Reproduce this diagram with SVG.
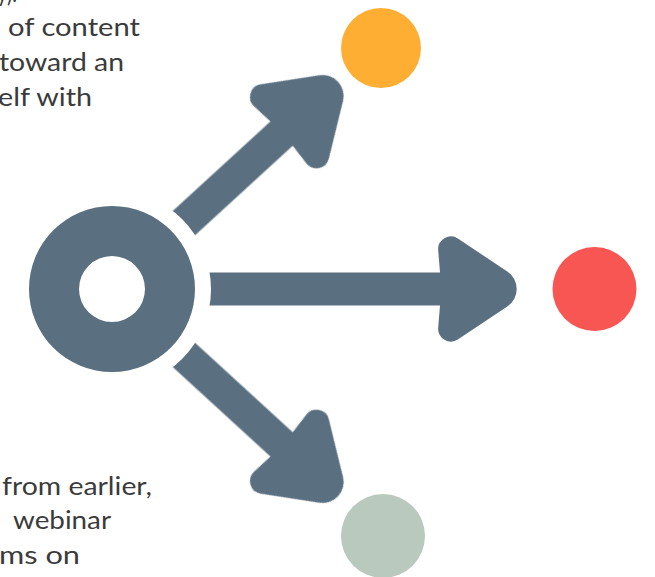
<svg xmlns="http://www.w3.org/2000/svg" xmlns:xlink="http://www.w3.org/1999/xlink" width="655" height="577" viewBox="0 0 655 577">
  <style>
    .slate { fill: #5a7081; }
    .copy { font-family: Lato, "Open Sans", sans-serif; font-size: 25px; fill: #3b3b3b; text-anchor: end; }
  </style>
  <defs>
    <!-- rounded arrow head; origin where the head's back meets the shaft axis -->
    <path id="head" d="M0,-16.5 L-1.8,-38.4 A12.8,12.8 0 0 1 18.2,-50.2 L67.3,-17.5 A21,21 0 0 1 67.3,17.5 L18.2,50.2 A12.8,12.8 0 0 1 -1.8,38.4 L0,16.5 Z"/>
    <!-- keeps a clear gap between the hub ring and the shafts -->
    <mask id="hubGap" maskUnits="userSpaceOnUse" x="0" y="0" width="655" height="577">
      <rect x="0" y="0" width="655" height="577" fill="#fff"/>
      <circle cx="112" cy="289" r="99" fill="#000"/>
    </mask>
  </defs>

  <rect x="0" y="0" width="655" height="577" fill="#ffffff"/>

  <!-- text blocks -->
  <g id="text-top">
    <text class="copy" x="17" y="2" textLength="20" lengthAdjust="spacingAndGlyphs">y).</text>
    <text class="copy" x="140" y="36" textLength="132" lengthAdjust="spacingAndGlyphs">of content</text>
    <text class="copy" x="124" y="71" textLength="125" lengthAdjust="spacingAndGlyphs">toward an</text>
    <text class="copy" x="92" y="106" textLength="94" lengthAdjust="spacingAndGlyphs">elf with</text>
  </g>
  <g id="text-bottom">
    <text class="copy" x="152" y="495" textLength="150" lengthAdjust="spacingAndGlyphs">from earlier,</text>
    <text class="copy" x="111" y="529" textLength="98" lengthAdjust="spacingAndGlyphs">webinar</text>
    <text class="copy" x="80" y="564" textLength="81" lengthAdjust="spacingAndGlyphs">ms on</text>
  </g>

  <!-- hub -->
  <g id="hub">
    <path class="slate" fill-rule="evenodd" d="M29,289 a83,83 0 1 0 166,0 a83,83 0 1 0 -166,0 Z M79,289 a33,33 0 1 0 66,0 a33,33 0 1 0 -66,0 Z"/>
  </g>

  <!-- connectors -->
  <g id="connectors" class="slate" mask="url(#hubGap)">
    <g id="arrow-up" transform="translate(112,289) rotate(-42.5) translate(230,0)">
      <rect x="-140" y="-16.5" width="141" height="33"/>
      <use xlink:href="#head"/>
    </g>
    <g id="arrow-right" transform="translate(440,289)">
      <rect x="-240" y="-16.5" width="241" height="33"/>
      <use xlink:href="#head"/>
    </g>
    <g id="arrow-down" transform="translate(112,289) rotate(42.5) translate(230,0)">
      <rect x="-140" y="-16.5" width="141" height="33"/>
      <use xlink:href="#head"/>
    </g>
  </g>

  <!-- target nodes -->
  <g id="node-orange"><circle cx="381" cy="48" r="40" fill="#feae33"/></g>
  <g id="node-red"><circle cx="594.5" cy="289" r="42" fill="#f75653"/></g>
  <g id="node-sage"><circle cx="383" cy="536" r="42" fill="#b9c9be"/></g>
</svg>
